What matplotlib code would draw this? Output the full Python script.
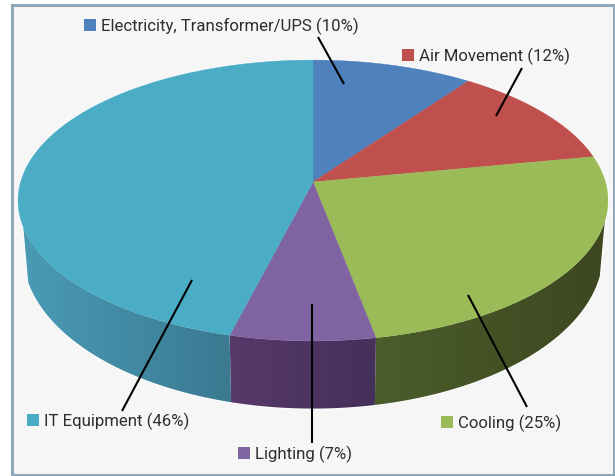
import numpy as np
import matplotlib
matplotlib.use("Agg")
import matplotlib.pyplot as plt
from matplotlib.colors import to_rgb
from matplotlib.patches import Polygon, Rectangle

# Chart data, clockwise from twelve o'clock
LABELS = ["Electricity, Transformer/UPS (10%)", "Air Movement (12%)", "Cooling (25%)",
          "Lighting (7%)", "IT Equipment (46%)"]
VALUES = [10, 12, 25, 7, 46]
TOP_COLORS = ["#4f81bd", "#c0504d", "#9bbb59", "#8064a2", "#4bacc6"]
# Wall shading at the left and right end of each visible wall
WALL_COLORS = {2: ("#4b5d2b", "#3d4720"), 3: ("#57396a", "#45305a"), 4: ("#4a9ab6", "#3b7a91")}

LABEL_POS = [(84, 26, 101), (402, 56, 419), (441, 423, 458), (238, 454, 255), (27, 421, 44)]
LEADERS = [((318, 38), (344, 85)), ((522, 69), (496, 117)), ((468, 296), (527, 408)),
           ((312, 305), (312, 444)), ((192, 281), (122, 412))]

CX, CY = 313, 183
K = 0.1317  # perspective strength
A, B = 292.4, 138
DEPTH = 51
SHRINK = 0.017  # bottom rim is a little narrower than the top
WALL_START_Y = {"right": 222, "left": 226}


def project(theta):
    """Map clockwise angle on the round pie to the tilted picture."""
    u, v = np.sin(theta), np.cos(theta)
    w = 1 + K * v
    return CX + A * u / w, CY - B * v / w, DEPTH / w ** 2


fig = plt.figure(figsize=(6.15, 4.77), dpi=100)
ax = fig.add_axes([0, 0, 1, 1])
ax.axis("off")

# Panel
ax.add_patch(Rectangle((11.5, 5.5), 602.5, 470, facecolor="#f6f6f6", edgecolor="#8fa9ba", linewidth=2.2))

edges = np.cumsum([0] + VALUES) / sum(VALUES) * 2 * np.pi

# Soft white fringe round the whole pie
ts = np.linspace(0, 2 * np.pi, 500)
xs, ys, _ = project(ts)
ax.add_patch(Polygon(np.c_[xs, ys], facecolor="white", edgecolor="white", linewidth=1.5))

# Walls, with a left-to-right shade
for i, (c0, c1) in WALL_COLORS.items():
    ts = np.linspace(edges[i], edges[i + 1], 200)
    xs, ys, ds = project(ts)
    keep = ys >= np.where(xs > CX, WALL_START_Y["right"], WALL_START_Y["left"])
    xs, ys, ds = xs[keep], ys[keep], ds[keep]
    xb = xs + SHRINK * (CX - xs)
    outline = np.r_[np.c_[xs, ys], np.c_[xb, ys + ds][::-1]]
    ax.add_patch(Polygon(outline, facecolor="none", edgecolor="white", linewidth=1.5))
    grad = np.linspace(to_rgb(c0), to_rgb(c1), 64)[np.newaxis, :, :]
    im = ax.imshow(grad, extent=(outline[:, 0].min(), outline[:, 0].max(), outline[:, 1].max(), outline[:, 1].min()),
                   aspect="auto", interpolation="bilinear", zorder=1.5)
    clip = Polygon(outline, transform=ax.transData, facecolor="none", edgecolor="none")
    ax.add_patch(clip)
    im.set_clip_path(clip)

# Top faces
for i, color in enumerate(TOP_COLORS):
    ts = np.linspace(edges[i], edges[i + 1], 200)
    xs, ys, _ = project(ts)
    ax.add_patch(Polygon(np.r_[[[CX, CY]], np.c_[xs, ys]], facecolor=color, edgecolor=color,
                         linewidth=0.3, zorder=2))

# Leader lines
for (x0, y0), (x1, y1) in LEADERS:
    ax.plot([x0, x1], [y0, y1], color="black", linewidth=1.5, solid_capstyle="butt", zorder=3)

# Labels with square keys
for label, color, (sx, sy, tx) in zip(LABELS, TOP_COLORS, LABEL_POS):
    ax.add_patch(Rectangle((sx, sy - 6), 12, 12, facecolor=color, edgecolor="none", zorder=3))
    ax.text(tx, sy + 0.5, label, fontsize=12.1, color="#2e2e2e", va="center", ha="left",
            family=["Roboto", "DejaVu Sans"], zorder=3)

ax.set_xlim(0, 615)
ax.set_ylim(477, 0)

fig.savefig("out.png", dpi=100)
